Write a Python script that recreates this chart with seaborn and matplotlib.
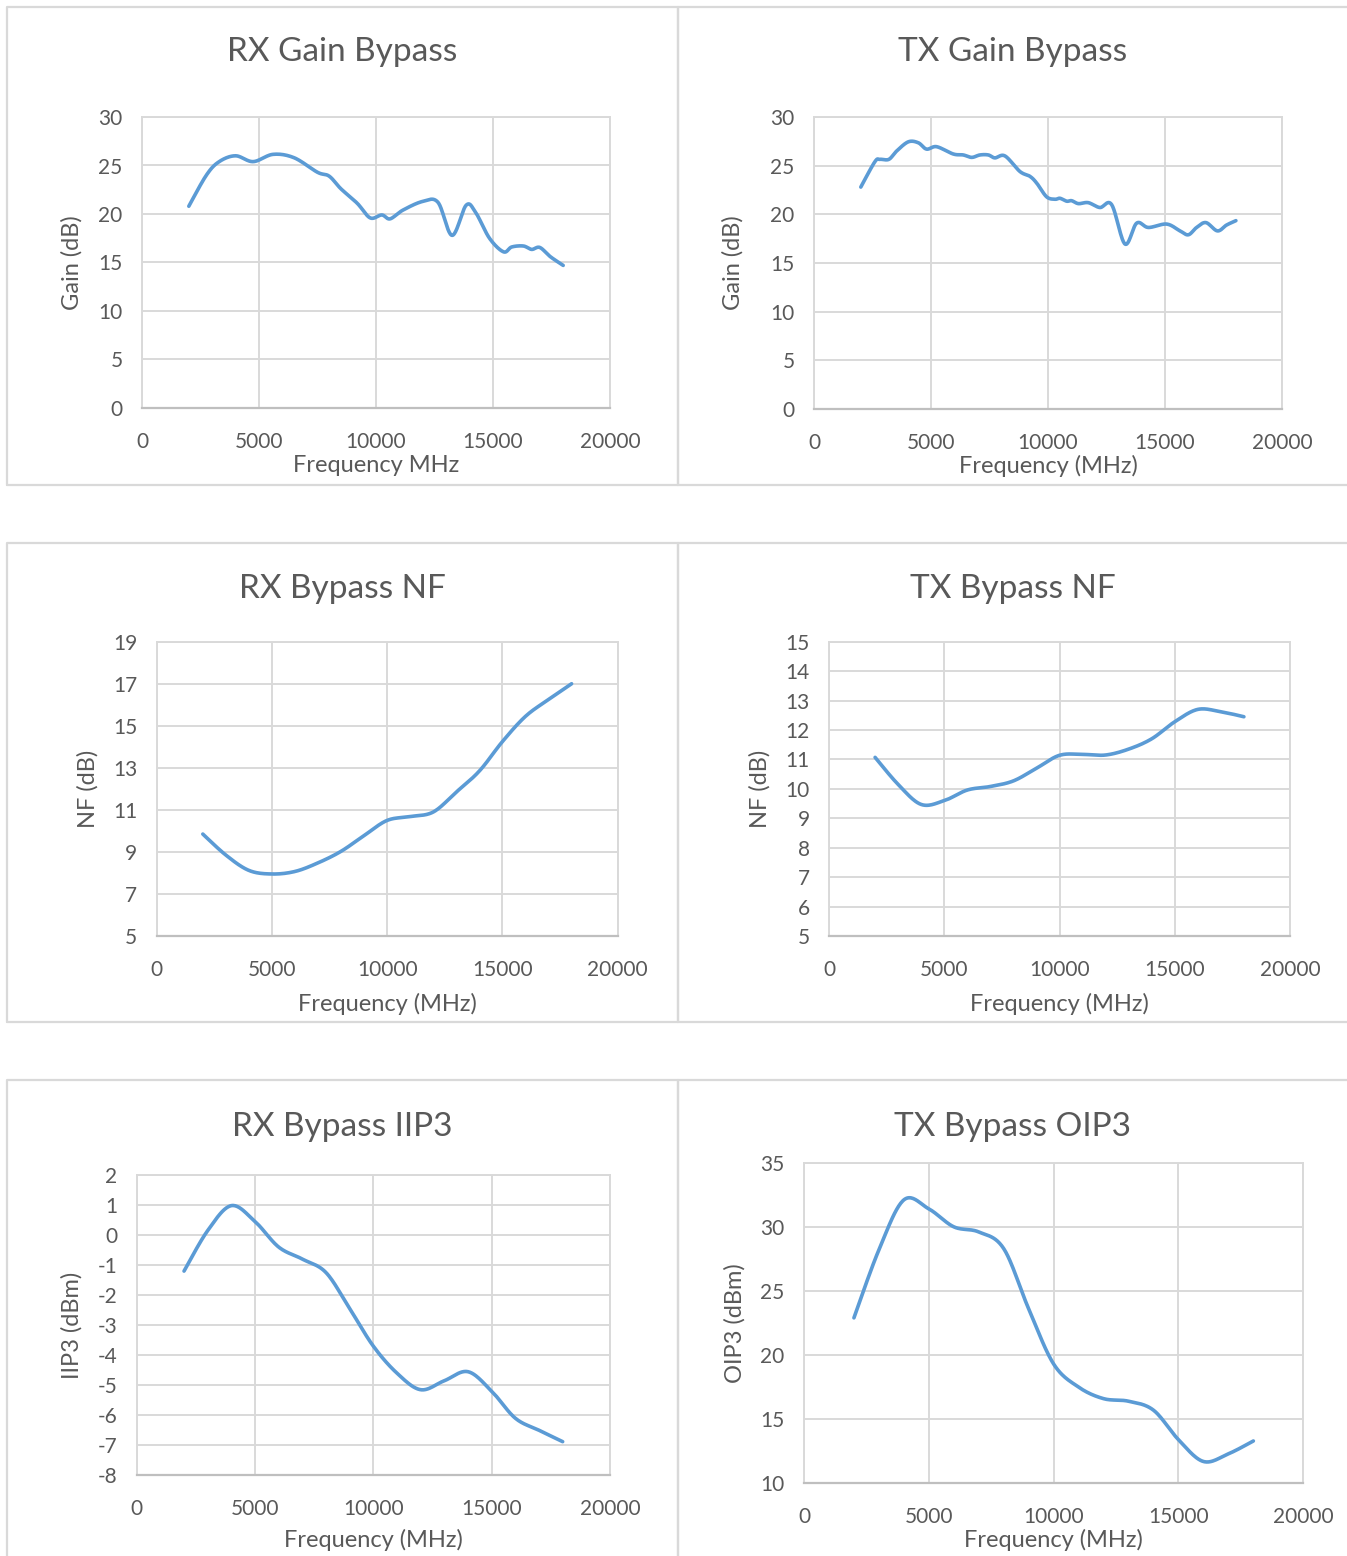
#!/usr/bin/env python3
"""Bypass-path gain / NF / IP3 summary sheet."""

import matplotlib

matplotlib.use("Agg")
import matplotlib.pyplot as plt
import numpy as np
import pandas as pd
import seaborn as sns
from matplotlib.lines import Line2D

W, H = 1347, 1556

# ---- data ----
rx_gain_freq = [2000, 2750, 3300, 4000, 4750, 5600, 6500, 7500, 8000, 8500, 9200, 9750,
                10250, 10600, 11150, 12000, 12650, 13250, 13850, 14250, 14850, 15450,
                15800, 16300, 16650, 17000, 17450, 18000]
rx_gain = [20.8, 24.0, 25.4, 26.0, 25.4, 26.15, 25.8, 24.3, 23.9, 22.6, 21.1, 19.6,
           19.9, 19.5, 20.4, 21.3, 21.2, 17.8, 20.9, 20.2, 17.5, 16.1,
           16.6, 16.7, 16.35, 16.55, 15.6, 14.7]

tx_gain_freq = [2000, 2600, 2820, 3200, 3530, 4030, 4460, 4810, 5240, 5950, 6380, 6740,
                7090, 7450, 7730, 8160, 8800, 9230, 9520, 9940, 10300, 10510, 10800,
                11010, 11300, 11720, 12220, 12720, 13290, 13790, 14290, 15070, 15640,
                16000, 16350, 16750, 17240, 17630, 18030]
tx_gain = [22.8, 25.4, 25.65, 25.65, 26.5, 27.45, 27.35, 26.7, 26.95, 26.2, 26.1, 25.85,
           26.1, 26.1, 25.8, 26.0, 24.4, 23.9, 23.2, 21.8, 21.55, 21.65, 21.35,
           21.4, 21.1, 21.2, 20.7, 21.0, 16.95, 19.1, 18.65, 19.0, 18.3,
           17.9, 18.65, 19.15, 18.3, 18.9, 19.35]

freq_1g = [2000, 3000, 4000, 5000, 6000, 7000, 8000, 9000, 10000, 11000, 12000,
           13000, 14000, 15000, 16000, 17000, 18000]
rx_nf = [9.85, 8.85, 8.12, 7.95, 8.07, 8.48, 9.03, 9.78, 10.5, 10.68, 10.9,
         11.85, 12.85, 14.25, 15.45, 16.25, 17.0]
tx_nf = [11.07, 10.15, 9.47, 9.6, 9.96, 10.08, 10.27, 10.7, 11.14, 11.17, 11.15,
         11.35, 11.7, 12.28, 12.7, 12.62, 12.45]
rx_iip3 = [-1.2, 0.15, 0.98, 0.45, -0.4, -0.8, -1.25, -2.45, -3.7, -4.6, -5.15,
           -4.85, -4.55, -5.2, -6.1, -6.5, -6.88]
tx_oip3 = [22.9, 28.2, 32.1, 31.4, 30.0, 29.6, 28.3, 23.6, 19.3, 17.5, 16.6,
           16.4, 15.7, 13.4, 11.7, 12.3, 13.3]

LINE = "#5b9bd5"
TEXT = "#595959"
GRID = "#d9d9d9"
AXIS = "#bfbfbf"


def smooth(x, y, n=24):
    # Excel-style smoothed line (Catmull-Rom through the points)
    p = np.column_stack([x, y]).astype(float)
    p = np.vstack([p[0], p, p[-1]])
    out = []
    t = np.linspace(0, 1, n, endpoint=False)[:, None]
    for i in range(1, len(p) - 2):
        p0, p1, p2, p3 = p[i - 1], p[i], p[i + 1], p[i + 2]
        c1 = p1 + (p2 - p0) / 6
        c2 = p2 - (p3 - p1) / 6
        out.append((1 - t) ** 3 * p1 + 3 * (1 - t) ** 2 * t * c1
                   + 3 * (1 - t) * t ** 2 * c2 + t ** 3 * p2)
    out.append(p[-2][None, :])
    out = np.vstack(out)
    return pd.DataFrame({"freq": out[:, 0], "val": out[:, 1]})


def px_axes(fig, left, top, right, bottom):
    return fig.add_axes([left / W, 1 - bottom / H, (right - left) / W, (bottom - top) / H])


sns.set_theme(style="white")
plt.rcParams["font.family"] = ["Lato", "DejaVu Sans"]
plt.rcParams["axes.unicode_minus"] = False

fig = plt.figure(figsize=(W / 100, H / 100), dpi=100)
fig.patch.set_facecolor("white")

# panel frames
for x0, x1 in [(7, 678), (678, 1352)]:
    for y0, y1 in [(7, 485), (543, 1022), (1080, 1562)]:
        xs = [x0 / W, x0 / W, x1 / W, x1 / W, x0 / W]
        ys = [1 - y1 / H, 1 - y0 / H, 1 - y0 / H, 1 - y1 / H, 1 - y1 / H]
        fig.add_artist(Line2D(xs, ys, color=GRID, lw=1.6, transform=fig.transFigure))

panels = [
    dict(box=(142, 117, 610, 408), x=rx_gain_freq, y=rx_gain, ylim=(0, 30), step=5,
         title="RX Gain Bypass", tpos=(342, 52), xlabel="Frequency MHz", xl_y=466,
         ylabel="Gain (dB)", yl_x=72, ticks=False),
    dict(box=(814, 117, 1282, 409), x=tx_gain_freq, y=tx_gain, ylim=(0, 30), step=5,
         title="TX Gain Bypass", tpos=(1013, 52), xlabel="Frequency (MHz)", xl_y=466,
         ylabel="Gain (dB)", yl_x=733, ticks=True),
    dict(box=(156.7, 641.7, 617.7, 936), x=freq_1g, y=rx_nf, ylim=(5, 19), step=2,
         title="RX Bypass NF", tpos=(342, 589), xlabel="Frequency (MHz)", xl_y=1004,
         ylabel="NF (dB)", yl_x=88, ticks=False),
    dict(box=(829, 641.7, 1290, 936), x=freq_1g, y=tx_nf, ylim=(5, 15), step=1,
         title="TX Bypass NF", tpos=(1013, 589), xlabel="Frequency (MHz)", xl_y=1004,
         ylabel="NF (dB)", yl_x=760, ticks=False),
    dict(box=(136.7, 1175, 610, 1475.3), x=freq_1g, y=rx_iip3, ylim=(-8, 2), step=1,
         title="RX Bypass IIP3", tpos=(342, 1127), xlabel="Frequency (MHz)", xl_y=1540,
         ylabel="IIP3 (dBm)", yl_x=72, ticks=False),
    dict(box=(804, 1162.7, 1303.3, 1483.3), x=freq_1g, y=tx_oip3, ylim=(10, 35), step=5,
         title="TX Bypass OIP3", tpos=(1013, 1127), xlabel="Frequency (MHz)", xl_y=1540,
         ylabel="OIP3 (dBm)", yl_x=735, ticks=False),
]

for p in panels:
    left, top, right, bottom = p["box"]
    ax = px_axes(fig, left, top, right, bottom)
    df = smooth(p["x"], p["y"])
    sns.lineplot(data=df, x="freq", y="val", sort=False, color=LINE, lw=2.6, ax=ax)
    ax.set_xlim(0, 20000)
    ax.set_ylim(*p["ylim"])
    ax.set_xticks(np.arange(0, 20001, 5000))
    ax.set_yticks(np.arange(p["ylim"][0], p["ylim"][1] + 0.1, p["step"]))
    ax.grid(True, color=GRID, lw=1.4)
    ax.set_axisbelow(True)
    for side in ["top", "right", "left"]:
        ax.spines[side].set_color(GRID)
        ax.spines[side].set_linewidth(1.4)
    ax.spines["bottom"].set_color(AXIS)
    ax.spines["bottom"].set_linewidth(1.6)
    ax.tick_params(axis="y", length=0, pad=14, labelsize=15, labelcolor=TEXT)
    ax.tick_params(axis="x", length=6 if p["ticks"] else 0, color=AXIS, width=1.4,
                   pad=11 if p["ticks"] else 17, labelsize=15, labelcolor=TEXT)

    ax.set_xlabel(p["xlabel"], fontsize=17, color=TEXT)
    ax.set_ylabel(p["ylabel"], fontsize=17, color=TEXT)
    ax.xaxis.label.set_va("center")
    ax.yaxis.label.set_va("center")
    ax.xaxis.set_label_coords(0.5, (bottom - p["xl_y"]) / (bottom - top))
    ax.yaxis.set_label_coords((p["yl_x"] - left) / (right - left), 0.5)

    fig.text(p["tpos"][0] / W, 1 - p["tpos"][1] / H, p["title"], ha="center",
             va="center", fontsize=24, color=TEXT)

fig.savefig("out.png", dpi=100, facecolor="white")
plt.close(fig)
